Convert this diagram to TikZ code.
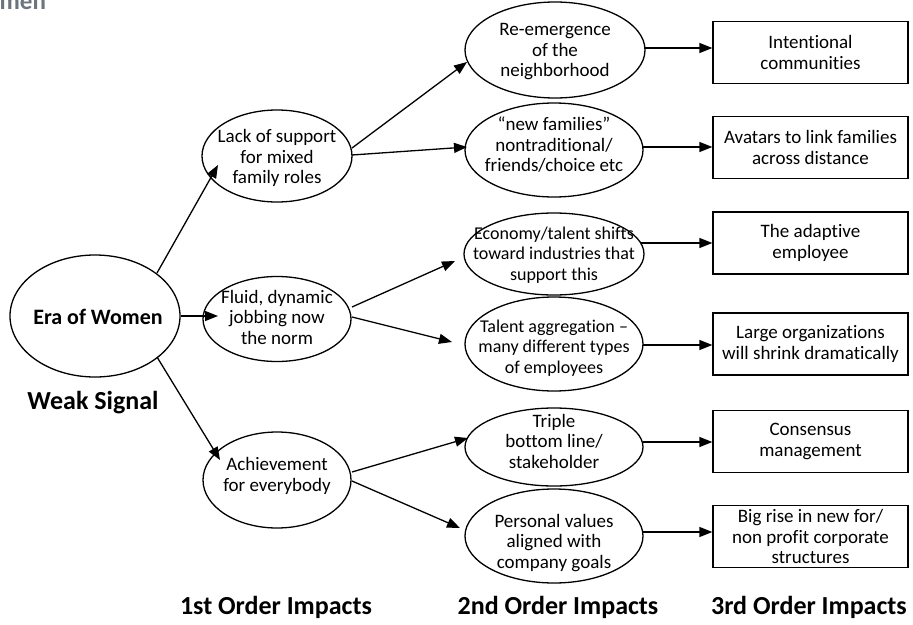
\documentclass[tikz,border=0pt]{standalone}
\usepackage{fontspec}
\setmainfont{Carlito}[Ligatures=NoCommon]
\usetikzlibrary{arrows.meta,shapes.geometric,calc}
\definecolor{titlegray}{RGB}{108,116,126}

\begin{document}
\begin{tikzpicture}[x=1pt,y=-1pt,
  line width=1.3pt,
  ell/.style={draw, ellipse, inner sep=0pt},
  lbl/.style={align=center, inner sep=0pt, font=\fontsize{19}{20.5}\selectfont},
  tight/.style={font=\fontsize{18}{20.5}\selectfont},
  outbox/.style={draw, rectangle, minimum width=195pt, minimum height=62pt,
                 inner sep=0pt, align=center, font=\fontsize{19}{21.5}\selectfont},
  arr/.style={-{Triangle[length=13pt,width=10pt]}},
  head/.style={inner sep=0pt, font=\bfseries\fontsize{26}{30}\selectfont}
]
\useasboundingbox (0,0) rectangle (913,624);
\clip (0,0) rectangle (913,624);

% cut-off heading at the top
\node[anchor=base west, inner sep=0pt, text=titlegray,
      font=\bfseries\fontsize{25}{28}\selectfont] (title) at (-1,9.5) {men};

% weak signal
\node[ell, minimum width=170pt, minimum height=122pt] (era) at (95,316) {};
\node[inner sep=0pt, font=\bfseries\fontsize{22}{26}\selectfont] (era-t) at (98,317) {Era of Women};
\node[head] (weak) at (93,403) {Weak Signal};

% first order impacts
\node[ell, minimum width=150pt, minimum height=92pt] (lack) at (277,156) {};
\node[lbl] (lack-t) at (277,158) {Lack of support\\for mixed\\family roles};
\node[ell, minimum width=148pt, minimum height=85pt] (fluid) at (277,319) {};
\node[lbl] (fluid-t) at (277,317) {Fluid, dynamic\\jobbing now\\the norm};
\node[ell, minimum width=148pt, minimum height=96pt] (ach) at (277,480) {};
\node[lbl] (ach-t) at (277,476) {Achievement\\for everybody};

% second order impacts
\node[ell, minimum width=180pt, minimum height=96pt] (reem) at (555,50) {};
\node[lbl] (reem-t) at (555,52) {Re-emergence\\of the\\neighborhood};
\node[ell, minimum width=178pt, minimum height=94pt] (newfam) at (554,150) {};
\node[lbl] (newfam-t) at (554,145) {“new families”\\nontraditional/\\friends/choice etc};
\node[ell, minimum width=180pt, minimum height=82pt] (econ) at (554,254) {};
\node[lbl, tight] (econ-t) at (554,255) {Economy/talent shifts\\toward industries that\\support this};
\node[ell, minimum width=178pt, minimum height=94pt] (talent) at (554,344) {};
\node[lbl, tight] (talent-t) at (554,348) {Talent aggregation –\\many different types\\of employees};
\node[ell, minimum width=178pt, minimum height=78pt] (triple) at (554,447) {};
\node[lbl] (triple-t) at (554,441) {Triple\\bottom line/\\stakeholder};
\node[ell, minimum width=178pt, minimum height=94pt] (pers) at (554,536) {};
\node[lbl] (pers-t) at (554,543) {Personal values\\aligned with\\company goals};

% third order impacts
\node[outbox] (intent) at (810.5,52.5) {Intentional\\communities};
\node[outbox] (avatar) at (810.5,147.5) {Avatars to link families\\across distance};
\node[outbox] (adapt) at (810.5,243) {The adaptive\\employee};
\node[outbox] (large) at (810.5,344) {Large organizations\\will shrink dramatically};
\node[outbox] (cons) at (810.5,441.5) {Consensus\\management};
\node[outbox, font=\fontsize{19}{20.5}\selectfont] (bigrise) at (810.5,536.5) {Big rise in new for/\\non profit corporate\\structures};

% column headings
\node[head] (h1) at (276,607) {1st Order Impacts};
\node[head] (h2) at (558,607) {2nd Order Impacts};
\node[head] (h3) at (809,607) {3rd Order Impacts};

% weak signal -> first order
\draw[arr] ($(era)+(62,-43)$) -- ($(lack)+(-59,9)$);
\draw[arr] (era.east) -- ($(era.east -| fluid.center)+(-59,0)$);
\draw[arr] ($(era)+(62,41)$) -- ($(ach)+(-57,-20)$);

% first order -> second order
\draw[arr] ($(lack)+(75,-8)$) -- ($(reem)+(-88,12)$);
\draw[arr] ($(lack)+(75,-1)$) -- ($(newfam)+(-87,-3)$);
\draw[arr] ($(fluid)+(75,-12)$) -- ($(econ)+(-99,7)$);
\draw[arr] ($(fluid)+(75,-2)$) -- ($(talent)+(-102,-2)$);
\draw[arr] ($(ach)+(75,-8)$) -- ($(triple)+(-86,-9)$);
\draw[arr] ($(ach)+(75,1)$) -- ($(pers)+(-94,-8)$);

% second order -> third order
\coordinate (o1) at ($(reem)+(89,-2)$);
\coordinate (o2) at ($(newfam)+(89,-3)$);
\coordinate (o3) at ($(econ)+(87,-11)$);
\coordinate (o4) at ($(talent)+(89,1)$);
\coordinate (o5) at ($(triple)+(89,-5)$);
\coordinate (o6) at ($(pers)+(89,-4)$);
\draw[arr] (o1) -- (o1 -| intent.west);
\draw[arr] (o2) -- (o2 -| avatar.west);
\draw[arr] (o3) -- (o3 -| adapt.west);
\draw[arr] (o4) -- (o4 -| large.west);
\draw[arr] (o5) -- (o5 -| cons.west);
\draw[arr] (o6) -- (o6 -| bigrise.west);
\end{tikzpicture}
\end{document}
